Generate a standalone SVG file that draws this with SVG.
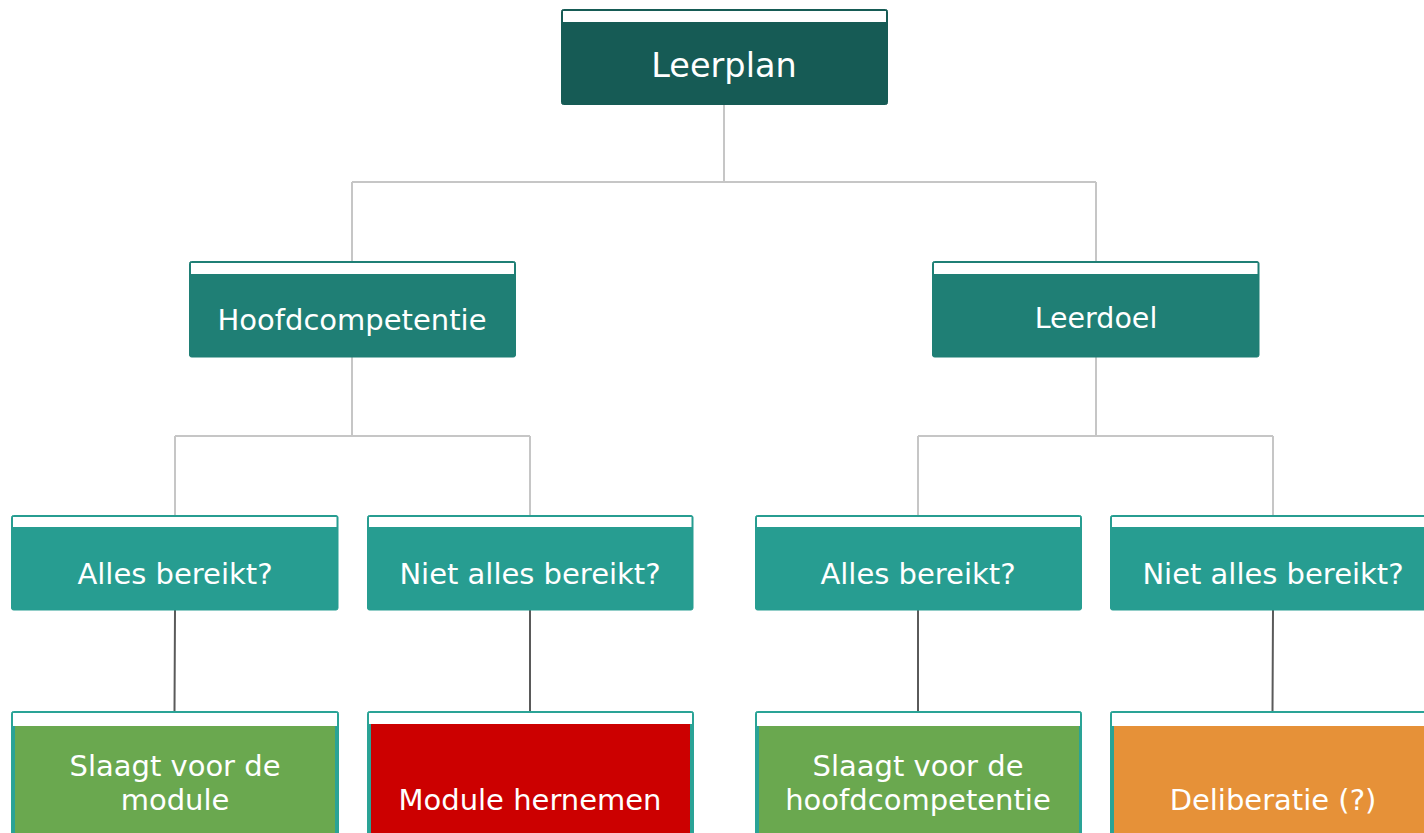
<svg xmlns="http://www.w3.org/2000/svg" width="1424" height="833" viewBox="0 0 1424 833">
<style>
  text { font-family: "DejaVu Sans", Verdana, sans-serif; fill: #ffffff; text-anchor: middle; }
  .t1 { font-size: 33.5px; }
  .t { font-size: 29px; }
  .hdr { fill: #ffffff; }
  .c1 { fill: #165b55; stroke: #165b55; }
  .c2 { fill: #1f7f75; stroke: #1f7f75; }
  .c3 { fill: #279d91; stroke: #279d91; }
  .c4 { fill: #2aa396; stroke: #2aa396; }
  .green { fill: #6aa84f; }
  .red { fill: #cc0000; }
  .orange { fill: #e69138; }
  .lg { stroke: #c6c6c6; stroke-width: 2; fill: none; }
  .dk { stroke: #5a5a5a; stroke-width: 2; fill: none; }
</style>
<rect width="1424" height="833" fill="#ffffff"/>
<g id="connectors">
  <path class="lg" d="M724 104 V182 M352 182 H1096 M352 182 V261 M1096 182 V261"/>
  <path class="lg" d="M352 357 V436 M175 436 H530 M175 436 V515 M530 436 V515"/>
  <path class="lg" d="M1096 357 V436 M918 436 H1273 M918 436 V515 M1273 436 V515"/>
  <path class="dk" d="M175 610 L174.5 711 M530 610 V711 M918 610 V711 M1273 610 L1272.5 711"/>
</g>
<g id="leerplan">
  <rect class="c1" x="561.5" y="9.5" width="326" height="95" rx="2"/>
  <rect class="hdr" x="563" y="11" width="323" height="11"/>
  <text class="t1" x="724" y="77">Leerplan</text>
</g>
<g id="hoofdcompetentie">
  <rect class="c2" x="189.5" y="261.5" width="326" height="95.5" rx="2"/>
  <rect class="hdr" x="191" y="263" width="323" height="11"/>
  <text class="t" x="352" y="330">Hoofdcompetentie</text>
</g>
<g id="leerdoel">
  <rect class="c2" x="932.5" y="261.5" width="326.5" height="95.5" rx="2"/>
  <rect class="hdr" x="934" y="263" width="323.5" height="11"/>
  <text class="t" x="1096" y="328" style="font-size:28.5px">Leerdoel</text>
</g>
<g id="alles1">
  <rect class="c3" x="11.5" y="515.5" width="326.5" height="94.5" rx="2"/>
  <rect class="hdr" x="13" y="517" width="323.5" height="10"/>
  <text class="t" x="175" y="584">Alles bereikt?</text>
</g>
<g id="niet1">
  <rect class="c3" x="367.5" y="515.5" width="325.5" height="94.5" rx="2"/>
  <rect class="hdr" x="369" y="517" width="322.5" height="10"/>
  <text class="t" x="530" y="584">Niet alles bereikt?</text>
</g>
<g id="alles2">
  <rect class="c3" x="755.5" y="515.5" width="326" height="94.5" rx="2"/>
  <rect class="hdr" x="757" y="517" width="323" height="10"/>
  <text class="t" x="918" y="584">Alles bereikt?</text>
</g>
<g id="niet2">
  <rect class="c3" x="1110.5" y="515.5" width="326" height="94.5" rx="2"/>
  <rect class="hdr" x="1112" y="517" width="323" height="10"/>
  <text class="t" x="1273" y="584">Niet alles bereikt?</text>
</g>
<g id="slaagt1">
  <rect class="c4" x="11.5" y="711.5" width="327" height="160" rx="2"/>
  <rect class="hdr" x="13" y="713" width="324" height="13"/>
  <rect class="green" x="15" y="726" width="320" height="140"/>
  <text class="t" x="175" y="776">Slaagt voor de</text>
  <text class="t" x="175" y="810">module</text>
</g>
<g id="hernemen">
  <rect class="c4" x="367.5" y="711.5" width="326" height="160" rx="2"/>
  <rect class="hdr" x="369" y="713" width="323" height="11"/>
  <rect class="red" x="371" y="724" width="319" height="140"/>
  <text class="t" x="530" y="810">Module hernemen</text>
</g>
<g id="slaagt2">
  <rect class="c4" x="755.5" y="711.5" width="326" height="160" rx="2"/>
  <rect class="hdr" x="757" y="713" width="323" height="13"/>
  <rect class="green" x="759" y="726" width="320" height="140"/>
  <text class="t" x="918" y="776">Slaagt voor de</text>
  <text class="t" x="918" y="810">hoofdcompetentie</text>
</g>
<g id="deliberatie">
  <rect class="c4" x="1110.5" y="711.5" width="326" height="160" rx="2"/>
  <rect class="hdr" x="1112" y="713" width="323" height="13"/>
  <rect class="orange" x="1114" y="726" width="320" height="140"/>
  <text class="t" x="1273" y="810">Deliberatie (?)</text>
</g>
</svg>
